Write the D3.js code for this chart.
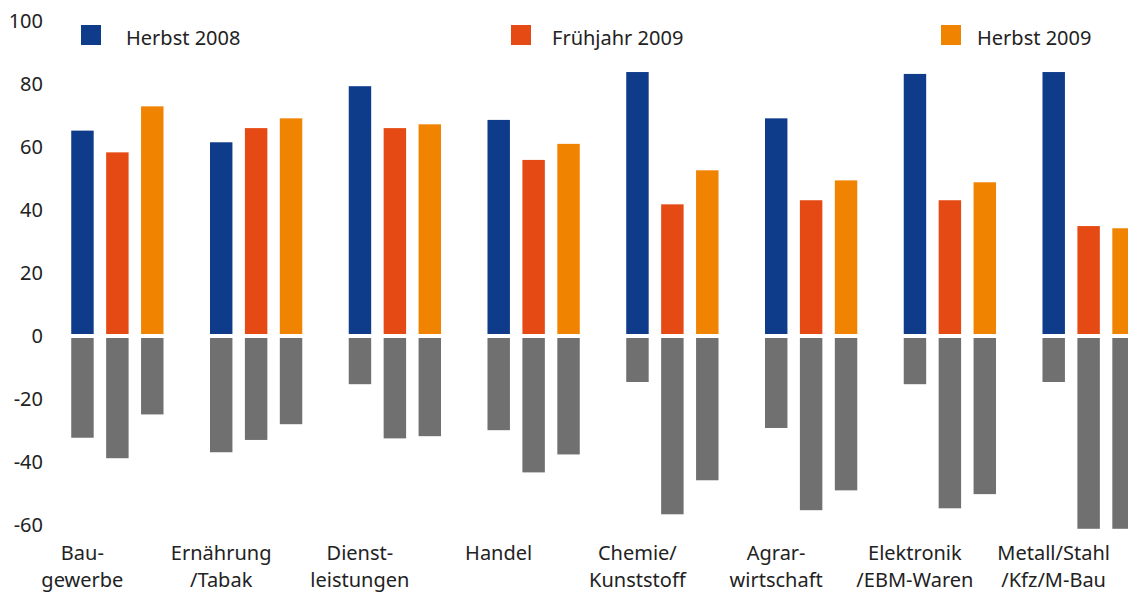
<!DOCTYPE html>
<html>
<head>
<meta charset="utf-8">
<script src="https://cdn.jsdelivr.net/npm/d3@7"></script>
<style>
  body { margin: 0; background: #fff; }
  text { font-family: "Noto Sans", "Open Sans", sans-serif; fill: #222; }
</style>
</head>
<body>
<div id="chart"></div>
<script>
"use strict"

const width = 1128;
const height = 592;

// data
const categories = [
    ["Bau-", "gewerbe"],
    ["Ernährung", "/Tabak"],
    ["Dienst-", "leistungen"],
    ["Handel", ""],
    ["Chemie/", "Kunststoff"],
    ["Agrar-", "wirtschaft"],
    ["Elektronik", "/EBM-Waren"],
    ["Metall/Stahl", "/Kfz/M-Bau"]
];
const seriesNames = ["Herbst 2008", "Frühjahr 2009", "Herbst 2009"];
const seriesColors = ["#0f3c8a", "#e64a14", "#f08300"];
const negativeColor = "#707070";

const positiveValues = [
    [65.2, 61.5, 79.3, 68.6, 83.8, 69.1, 83.2, 83.8],
    [58.3, 66.0, 66.0, 55.9, 41.8, 43.1, 43.1, 34.9],
    [72.9, 69.1, 67.2, 61.0, 52.6, 49.4, 48.8, 34.2]
];
const negativeValues = [
    [-32.3, -36.9, -15.3, -29.9, -14.6, -29.2, -15.3, -14.6],
    [-38.8, -33.0, -32.5, -43.3, -56.6, -55.3, -54.7, -61.2],
    [-24.9, -28.0, -31.8, -37.6, -45.8, -49.0, -50.2, -61.2]
];
const tickValues = [100, 80, 60, 40, 20, 0, -20, -40, -60];

const zeroGap = 2;
const labelShift = -35;

const svg = d3.select("#chart").append("svg")
    .attr("width", width)
    .attr("height", height);

const x0 = d3.scaleBand()
    .domain(d3.range(categories.length))
    .range([48, 1158]);

const x1 = d3.scaleBand()
    .domain(d3.range(seriesNames.length))
    .range([17, x0.bandwidth() - 17])
    .paddingInner(0.357)
    .paddingOuter(0.1785);

const y = d3.scaleLinear()
    .domain([-60, 100])
    .range([525, 21]);

// y tick labels
svg.append("g")
    .selectAll("text")
    .data(tickValues)
    .join("text")
        .attr("x", 43)
        .attr("y", d => y(d))
        .attr("dy", "0.35em")
        .attr("text-anchor", "end")
        .attr("font-size", 20)
        .text(d => d);

// bars
const rows = [];
seriesNames.forEach((s, si) => {
    categories.forEach((c, ci) => {
        rows.push({ ci, si, pos: positiveValues[si][ci], neg: negativeValues[si][ci] });
    });
});

svg.append("g")
    .selectAll("rect")
    .data(rows)
    .join("rect")
        .attr("x", d => x0(d.ci) + x1(d.si))
        .attr("y", d => y(d.pos))
        .attr("width", x1.bandwidth())
        .attr("height", d => y(0) - zeroGap - y(d.pos))
        .attr("fill", d => seriesColors[d.si]);

svg.append("g")
    .selectAll("rect")
    .data(rows)
    .join("rect")
        .attr("x", d => x0(d.ci) + x1(d.si))
        .attr("y", y(0) + zeroGap)
        .attr("width", x1.bandwidth())
        .attr("height", d => y(d.neg) - y(0) - zeroGap)
        .attr("fill", negativeColor);

// category labels
const catLabels = svg.append("g")
    .selectAll("text")
    .data(categories)
    .join("text")
        .attr("text-anchor", "middle")
        .attr("font-size", 20)
        .attr("transform", (d, i) => `translate(${x0(i) + x0.bandwidth() / 2 + labelShift},560)`);

catLabels.append("tspan")
    .attr("x", 0)
    .attr("y", 0)
    .text(d => d[0]);

catLabels.append("tspan")
    .attr("x", 0)
    .attr("y", 27)
    .text(d => d[1]);

// legend
const legendX = [81, 511, 941];
const legendTextOffset = [45, 41, 36];
const legend = svg.append("g")
    .selectAll("g")
    .data(seriesNames)
    .join("g")
        .attr("transform", (d, i) => `translate(${legendX[i]},25)`);

legend.append("rect")
    .attr("width", 20)
    .attr("height", 20)
    .attr("fill", (d, i) => seriesColors[i]);

legend.append("text")
    .attr("x", (d, i) => legendTextOffset[i])
    .attr("y", 20)
    .attr("font-size", 20)
    .text(d => d);
</script>
</body>
</html>
